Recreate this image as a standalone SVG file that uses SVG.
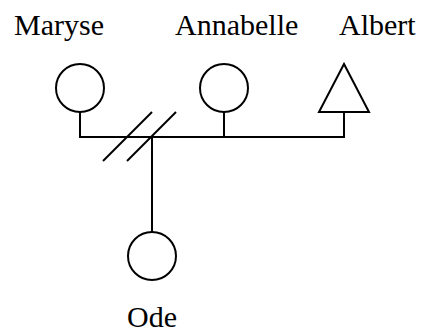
<svg xmlns="http://www.w3.org/2000/svg" width="422" height="333" viewBox="0 0 422 333">
<style>
.n{fill:none;stroke:#000;stroke-width:2}
.c{fill:none;stroke:#000;stroke-width:2}
text{font-family:"Liberation Serif","Times New Roman",serif;font-size:30px;fill:#000}
</style>
<rect width="422" height="333" fill="#fff"/>
<g id="connectors">
<polyline class="c" points="80,112 80,137 344,137 344,112"/>
<line class="c" x1="224" y1="112" x2="224" y2="137"/>
<line class="c" x1="152" y1="137" x2="152" y2="232"/>
<line class="c" x1="103" y1="161" x2="152" y2="112"/>
<line class="c" x1="127" y1="161" x2="176" y2="112"/>
</g>
<g id="maryse"><circle class="n" cx="80" cy="88" r="24"/><text x="14" y="35">Maryse</text></g>
<g id="annabelle"><circle class="n" cx="224" cy="88" r="24"/><text x="175" y="35">Annabelle</text></g>
<g id="albert"><polygon class="n" points="344,64 319,112 369,112"/><text x="339" y="35">Albert</text></g>
<g id="ode"><circle class="n" cx="152" cy="256" r="24"/><text x="127" y="327">Ode</text></g>
</svg>
